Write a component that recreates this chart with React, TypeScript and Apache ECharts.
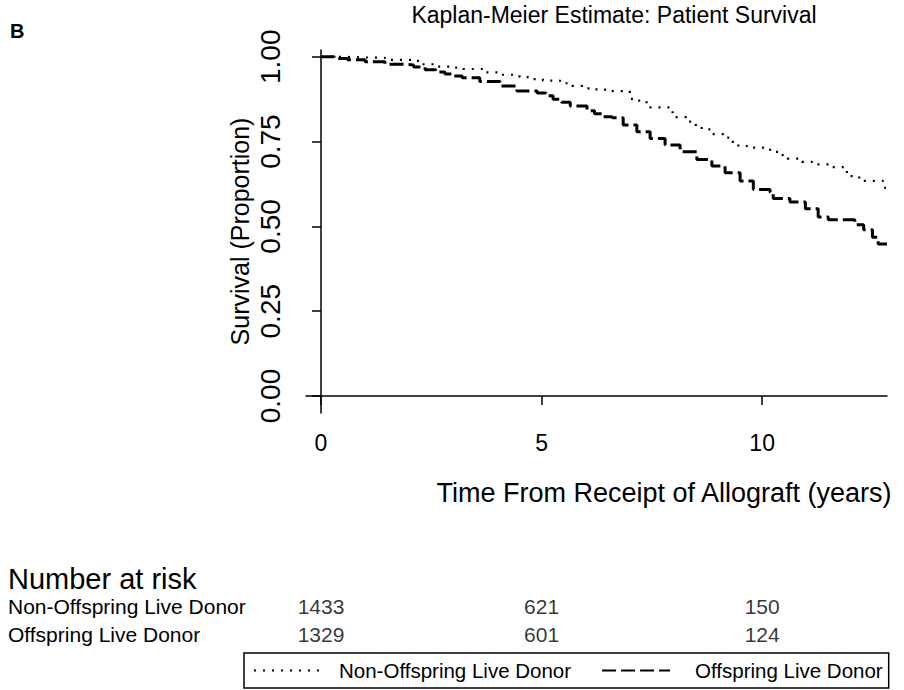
import React, { useEffect, useRef } from "react";
import * as echarts from "echarts";

// Kaplan-Meier step points (years, proportion surviving)
const nonOffspringTime = [0, 0.5, 1.0, 1.45, 2.06, 2.29, 2.65, 3.0, 3.22, 3.67, 4.06, 4.5, 4.76, 5.03, 5.42, 5.69, 5.92, 6.17, 6.44, 7.0, 7.12, 7.38, 7.97, 8.29, 8.48, 8.63, 8.86, 9.12, 9.31, 9.46, 9.71, 10.18, 10.4, 10.57, 10.9, 11.13, 11.6, 11.92, 12.2, 12.74, 12.83];
const nonOffspringSurvival = [1.0, 0.998, 0.997, 0.991, 0.988, 0.978, 0.971, 0.968, 0.964, 0.954, 0.947, 0.94, 0.934, 0.93, 0.922, 0.914, 0.907, 0.904, 0.899, 0.876, 0.871, 0.851, 0.822, 0.809, 0.799, 0.786, 0.772, 0.762, 0.749, 0.737, 0.732, 0.72, 0.71, 0.7, 0.69, 0.683, 0.675, 0.648, 0.634, 0.614, 0.614];

const offspringTime = [0, 0.3, 0.6, 1.0, 1.45, 1.9, 2.1, 2.36, 2.6, 2.81, 3.0, 3.2, 3.6, 4.06, 4.44, 4.9, 5.1, 5.26, 5.45, 5.65, 6.03, 6.2, 6.4, 6.6, 6.85, 7.16, 7.46, 7.8, 8.14, 8.52, 8.86, 9.16, 9.5, 9.8, 10.18, 10.25, 10.63, 10.98, 11.27, 11.5, 12.1, 12.3, 12.5, 12.63, 12.83];
const offspringSurvival = [1.0, 0.995, 0.991, 0.985, 0.978, 0.976, 0.97, 0.962, 0.955, 0.949, 0.943, 0.938, 0.927, 0.914, 0.899, 0.893, 0.885, 0.875, 0.866, 0.855, 0.841, 0.832, 0.823, 0.82, 0.799, 0.779, 0.759, 0.74, 0.72, 0.697, 0.678, 0.658, 0.634, 0.609, 0.601, 0.582, 0.572, 0.552, 0.528, 0.52, 0.505, 0.49, 0.468, 0.448, 0.448];

const xTicks = [0, 5, 10];
const yTicks = [0, 0.25, 0.5, 0.75, 1];
const riskTimes = [0, 5, 10];
const riskGroups = ["Non-Offspring Live Donor", "Offspring Live Donor"];
const nonOffspringAtRisk = [1433, 621, 150];
const offspringAtRisk = [1329, 601, 124];

const FONT = "'Liberation Sans', Arial, sans-serif";

const zip = (t: number[], s: number[]) => t.map((v, i) => [v, s[i]]);

export default function App() {
  const ref = useRef<HTMLDivElement>(null);
  useEffect(() => {
    document.body.style.margin = "0";
    if (!ref.current) return;
    const chart = echarts.init(ref.current, null, { renderer: "svg" });
    const riskData: any[] = [];
    riskTimes.forEach((t, i) => {
      riskData.push([t, riskGroups[0], nonOffspringAtRisk[i]]);
      riskData.push([t, riskGroups[1], offspringAtRisk[i]]);
    });
    chart.setOption({
      animation: false,
      backgroundColor: "#fff",
      title: {
        text: "Kaplan-Meier Estimate: Patient Survival",
        left: 614,
        top: 3,
        textAlign: "center",
        padding: 0,
        textStyle: { fontFamily: FONT, fontSize: 23, fontWeight: "normal", color: "#000" },
      },
      graphic: [
        { type: "text", left: 10, top: 21, style: { text: "B", font: `bold 20px ${FONT}`, fill: "#000" } },
        { type: "text", x: 8, y: 579, style: { text: "Number at risk", font: `29px ${FONT}`, fill: "#000", textVerticalAlign: "middle" } },
      ],
      legend: {
        left: 244,
        top: 653,
        orient: "horizontal",
        itemWidth: 68,
        itemHeight: 20,
        itemGap: 30,
        padding: [7, 6, 7, 9],
        borderColor: "#000",
        borderWidth: 1.5,
        borderRadius: 0,
        data: [
          { name: "Non-Offspring Live Donor", textStyle: { padding: [0, 0, 0, 12] } },
          { name: "Offspring Live Donor", textStyle: { padding: [0, 0, 0, 20] } },
        ],
        itemStyle: { color: "rgba(0,0,0,0)", borderColor: "rgba(0,0,0,0)", borderWidth: 0, opacity: 0 },
        textStyle: { fontFamily: FONT, fontSize: 20.5, color: "#000" },
      },
      grid: [
        { left: 306, top: 50, width: 581, height: 363, outerBoundsMode: "none" },
        { left: 306, top: 592, width: 581, height: 56, outerBoundsMode: "none" },
      ],
      xAxis: [
        {
          type: "value",
          gridIndex: 0,
          min: -0.34,
          max: 12.83,
          axisLine: { show: true, lineStyle: { color: "#000", width: 1.5 } },
          axisTick: { show: true, customValues: xTicks, length: 9, lineStyle: { color: "#000", width: 1.5 } },
          axisLabel: { customValues: xTicks, color: "#000", fontFamily: FONT, fontSize: 23, margin: 18 },
          splitLine: { show: false },
          name: "Time From Receipt of Allograft (years)",
          nameLocation: "middle",
          nameGap: 66,
          nameMoveOverlap: false,
          nameTextStyle: { fontFamily: FONT, fontSize: 27, color: "#000", padding: [0, 0, 0, 135] },
        },
        {
          type: "value",
          gridIndex: 1,
          min: -0.34,
          max: 12.83,
          show: false,
        },
      ],
      yAxis: [
        {
          type: "value",
          gridIndex: 0,
          min: -0.05,
          max: 1.02,
          axisLine: { show: true, lineStyle: { color: "#000", width: 1.5 } },
          axisTick: { show: true, customValues: yTicks, length: 9, lineStyle: { color: "#000", width: 1.5 } },
          axisLabel: {
            customValues: yTicks,
            rotate: 90,
            color: "#000",
            fontFamily: FONT,
            fontSize: 28,
            margin: 22,
            formatter: (v: number) => v.toFixed(2),
          },
          splitLine: { show: false },
          name: "Survival (Proportion)",
          nameLocation: "middle",
          nameRotate: 90,
          nameGap: 54,
          nameMoveOverlap: false,
          nameTextStyle: { fontFamily: FONT, fontSize: 25, color: "#000" },
        },
        {
          type: "category",
          gridIndex: 1,
          data: riskGroups,
          inverse: true,
          axisLine: { show: false },
          axisTick: { show: false },
          axisLabel: { interval: 0, align: "left", margin: 298, color: "#000", fontFamily: FONT, fontSize: 21 },
        },
      ],
      series: [
        {
          name: "Non-Offspring Live Donor",
          type: "line",
          step: "end",
          symbol: "none",
          xAxisIndex: 0,
          yAxisIndex: 0,
          lineStyle: { color: "#000", width: 2.2, type: [2, 7], cap: "butt" },
          itemStyle: { color: "#000" },
          data: zip(nonOffspringTime, nonOffspringSurvival),
        },
        {
          name: "Offspring Live Donor",
          type: "line",
          step: "end",
          symbol: "none",
          xAxisIndex: 0,
          yAxisIndex: 0,
          lineStyle: { color: "#000", width: 3, type: [14, 5], cap: "butt" },
          itemStyle: { color: "#000" },
          data: zip(offspringTime, offspringSurvival),
        },
        {
          name: "risk",
          type: "scatter",
          xAxisIndex: 1,
          yAxisIndex: 1,
          symbolSize: 0,
          silent: true,
          label: {
            show: true,
            position: "inside",
            color: "#000",
            fontFamily: FONT,
            fontSize: 21,
            formatter: (p: any) => String(p.value[2]),
          },
          data: riskData,
        },
      ],
    });
    return () => chart.dispose();
  }, []);
  return <div ref={ref} style={{ width: 904, height: 690 }} />;
}
